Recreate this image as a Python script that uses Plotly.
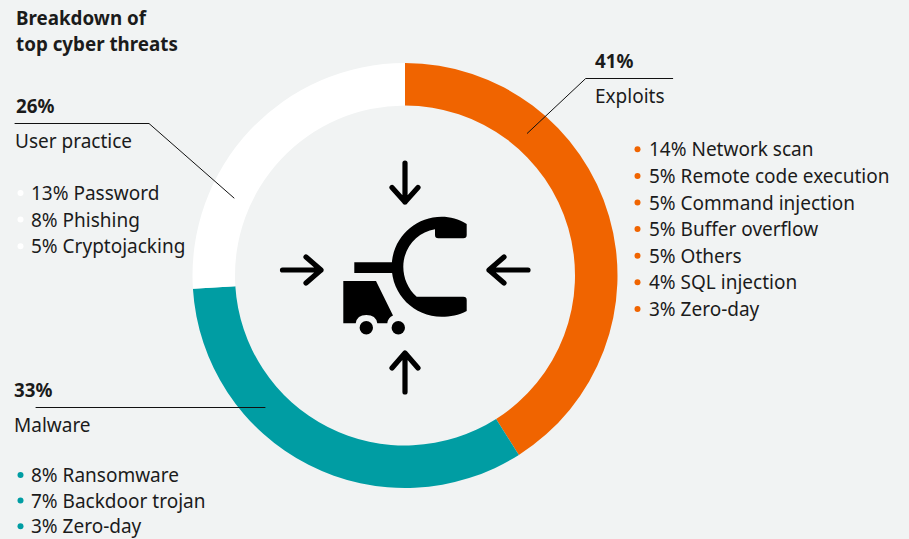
import plotly.graph_objects as go

# ---- data ----
categories = ["Exploits", "Malware", "User practice"]
shares = [41, 33, 26]
colors = ["#F06400", "#009DA3", "#FFFFFF"]
exploits_items = ["14% Network scan", "5% Remote code execution", "5% Command injection",
                  "5% Buffer overflow", "5% Others", "4% SQL injection", "3% Zero-day"]
user_items = ["13% Password", "8% Phishing", "5% Cryptojacking"]
malware_items = ["8% Ransomware", "7% Backdoor trojan", "3% Zero-day"]
title_lines = ["Breakdown of", "top cyber threats"]

# ---- layout (pixel space) ----
W, H = 909, 539
BG = "#F1F3F3"
INK = "#1B1B1B"
FONT = "Noto Sans"
LIST_SIZE = 19
HEAD_SIZE = 18.8
LINE_H = 26.6

fig = go.Figure()
fig.add_trace(go.Pie(
    labels=categories, values=shares, sort=False, direction="clockwise", rotation=0,
    hole=0.8, textinfo="none", hoverinfo="label+percent",
    marker=dict(colors=colors, line=dict(width=0)),
    domain=dict(x=[192.5 / W, 617.5 / W], y=[1 - 488 / H, 1 - 63 / H]),
    showlegend=False,
))

annotations = []
def label(x, y, text, size=LIST_SIZE, bold=False):
    annotations.append(dict(
        x=x, y=y, xref="x", yref="y", text=f"<b>{text}</b>" if bold else text, showarrow=False,
        xanchor="left", yanchor="middle",
        font=dict(family=FONT, size=size, color=INK), align="left",
    ))

def bullet_list(items, bx, tx, y0, color, step=LINE_H):
    ys = [y0 + i * step for i in range(len(items))]
    fig.add_trace(go.Scatter(x=[bx] * len(items), y=ys, mode="markers", showlegend=False,
                             hoverinfo="skip", cliponaxis=False,
                             marker=dict(size=6, color=color, line=dict(width=0))))
    for it, y in zip(items, ys):
        label(tx, y, it)

bullet_list(exploits_items, 637.5, 646.5, 149.3, colors[0])
bullet_list(user_items, 20.5, 28.5, 193, colors[2])
bullet_list(malware_items, 20.5, 28.5, 475, colors[1], 25.6)

label(13.5, 17.5, title_lines[0], HEAD_SIZE, True)
label(13.5, 44, title_lines[1], HEAD_SIZE, True)
label(13.5, 105.5, f"{shares[2]}%", HEAD_SIZE, True)
label(13, 140.5, categories[2], LIST_SIZE)
label(593, 60.5, f"{shares[0]}%", HEAD_SIZE, True)
label(593, 95.5, categories[0], LIST_SIZE)
label(12, 389.5, f"{shares[1]}%", HEAD_SIZE, True)
label(12, 424.5, categories[1], LIST_SIZE)

shapes = []
def stroke(path, width=1, color="#111111"):
    shapes.append(dict(type="path", path=path, xref="x", yref="y", layer="above",
                       line=dict(color=color, width=width), fillcolor="rgba(0,0,0,0)"))
def fill(path):
    shapes.append(dict(type="path", path=path, xref="x", yref="y", layer="above",
                       line=dict(width=0), fillcolor="#000000"))
def disc(cx, cy, r):
    shapes.append(dict(type="circle", x0=cx - r, x1=cx + r, y0=cy - r, y1=cy + r, xref="x", yref="y",
                       layer="above", line=dict(width=0), fillcolor="#000000"))

# leader lines
stroke("M15,123.5 L149,123.5 L234,198")
stroke("M527.3,133.3 L585.7,78.5 L672.7,78.5")
stroke("M36,407.5 L265,407.5")

# arrows
AW = 5.2
stroke("M405,163 L405,202 M392,187.5 L405,202 L418,187.5", AW, "#000000")
stroke("M405,392 L405,353 M392,368 L405,353 L418,368", AW, "#000000")
stroke("M282.5,270 L321,270 M306,257 L321,270 L306,283", AW, "#000000")
stroke("M528,270 L489,270 M504,257 L489,270 L504,283", AW, "#000000")

# C-arm icon
fill("M466.7,224 C459,219 450,216.7 441.7,216.7 C414,216.7 391.7,239 391.7,266.7 "
     "C391.7,294.4 414,316.7 441.7,316.7 C450,316.7 459,315.5 466.7,311 L466.7,300 "
     "Q466.7,296.7 463.3,296.7 L416.7,296.7 C408,289 403.3,278 403.3,266.7 "
     "C403.3,248 417,232 435,229.3 L435,235 Q435,238.3 438.3,238.3 L463.3,238.3 "
     "Q466.7,238.3 466.7,235 Z")
fill("M354.3,262.3 L393,262.3 L393,273 L354.3,273 Z")
fill("M343.3,281 L376,281 L393,315.5 Q388,317.5 387.3,323.3 L377.3,323.3 "
     "Q376,315 366.3,315 Q357,315 355.7,323.3 L343.3,323.3 Z")
disc(366.3, 327.7, 6.7)
disc(398.3, 327.7, 6.7)

fig.update_layout(
    width=W, height=H, margin=dict(l=0, r=0, t=0, b=0),
    paper_bgcolor=BG, plot_bgcolor=BG,
    xaxis=dict(range=[0, W], visible=False, fixedrange=True),
    yaxis=dict(range=[H, 0], visible=False, fixedrange=True),
    annotations=annotations, shapes=shapes, showlegend=False,
)

post = """
document.documentElement.style.margin='0';
document.body.style.margin='0';
document.body.style.background='#F1F3F3';
var s=document.createElement('style');
s.textContent='.shapelayer path{stroke-linecap:round;stroke-linejoin:round}';
document.head.appendChild(s);
"""
fig.write_html("out.html", post_script=post, config={"displayModeBar": False})
